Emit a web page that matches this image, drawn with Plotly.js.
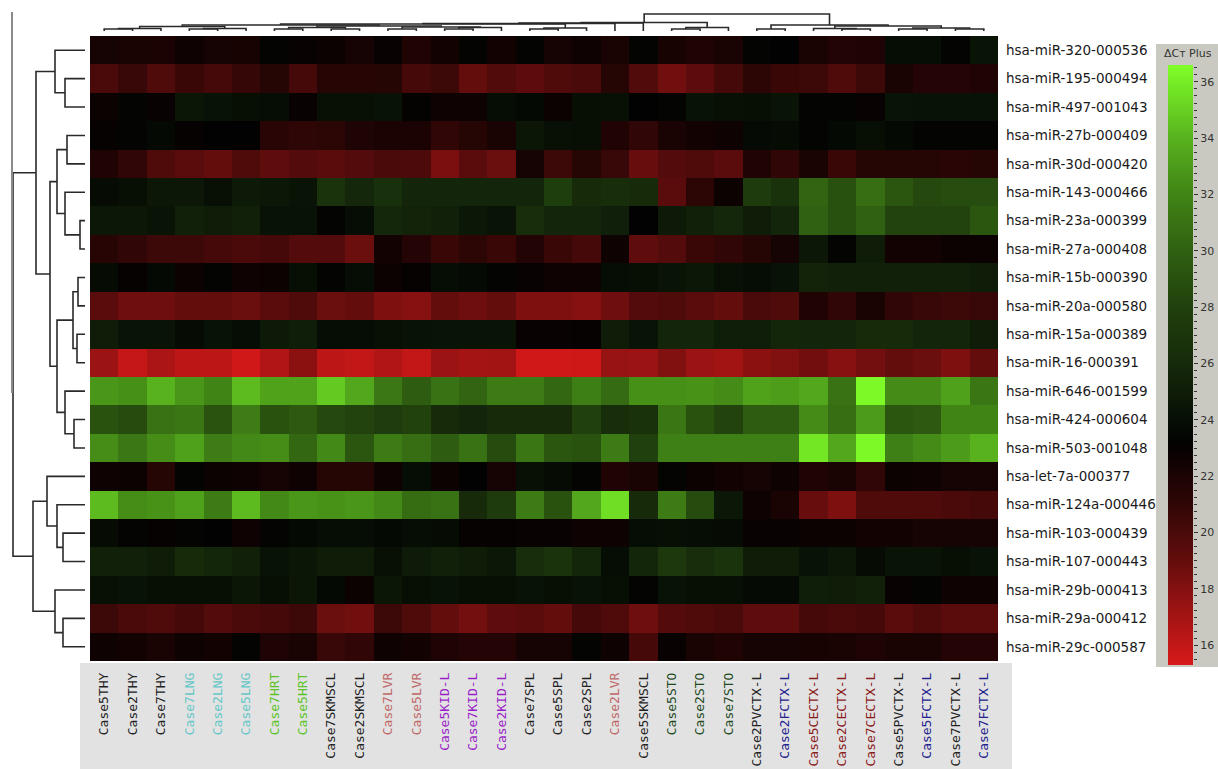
<!DOCTYPE html>
<html>
<head>
<meta charset="utf-8">
<script src="https://cdn.plot.ly/plotly-3.0.1.min.js"></script>
<style>html,body{margin:0;padding:0;background:#fff;}#chart{width:1218px;height:769px;}</style>
</head>
<body>
<div id="chart"></div>
<script>
// ---------- DATA ----------
const rowLabels = ["hsa-miR-320-000536","hsa-miR-195-000494","hsa-miR-497-001043","hsa-miR-27b-000409","hsa-miR-30d-000420","hsa-miR-143-000466","hsa-miR-23a-000399","hsa-miR-27a-000408","hsa-miR-15b-000390","hsa-miR-20a-000580","hsa-miR-15a-000389","hsa-miR-16-000391","hsa-miR-646-001599","hsa-miR-424-000604","hsa-miR-503-001048","hsa-let-7a-000377","hsa-miR-124a-000446","hsa-miR-103-000439","hsa-miR-107-000443","hsa-miR-29b-000413","hsa-miR-29a-000412","hsa-miR-29c-000587"];
const colLabels = ["Case5THY","Case2THY","Case7THY","Case7LNG","Case2LNG","Case5LNG","Case7HRT","Case5HRT","Case7SKMSCL","Case2SKMSCL","Case7LVR","Case5LVR","Case5KID-L","Case7KID-L","Case2KID-L","Case7SPL","Case5SPL","Case2SPL","Case2LVR","Case5SKMSCL","Case5STO","Case2STO","Case7STO","Case2PVCTX-L","Case2FCTX-L","Case5CECTX-L","Case2CECTX-L","Case7CECTX-L","Case5PVCTX-L","Case5FCTX-L","Case7PVCTX-L","Case7FCTX-L"];

// ΔCt values per miRNA (columns in colLabels order)
const miR320  = [22.3,22.1,22.0,22.7,22.3,22.2,23.3,22.9,22.8,22.3,22.9,21.8,22.5,23.3,22.5,23.3,22.3,22.7,22.1,23.3,22.2,21.9,22.1,23.3,23.2,22.1,21.7,21.9,23.9,23.9,23.4,24.3];
const miR195  = [20.0,20.7,19.8,20.6,20.2,20.8,21.5,20.2,21.4,21.4,21.5,20.2,20.5,19.0,19.7,19.3,19.8,20.0,21.5,19.7,18.6,19.3,20.2,21.2,20.6,20.5,19.8,20.5,22.1,21.6,21.6,21.8];
const miR497  = [22.8,23.3,22.9,24.5,24.2,24.0,23.9,22.9,24.1,24.1,24.2,23.1,22.7,22.7,23.9,23.6,22.8,24.0,24.1,23.2,23.3,24.2,24.1,24.0,24.4,23.3,23.3,22.9,24.4,24.2,24.2,24.2];
const miR27b  = [23.0,23.3,23.6,23.0,23.2,23.2,21.3,21.1,21.2,21.9,22.0,22.0,21.0,21.5,22.1,24.5,24.1,24.0,21.8,21.0,22.1,22.5,22.7,23.7,23.8,23.3,23.6,24.0,23.6,23.3,23.3,23.3];
const miR30d  = [21.8,21.0,19.8,19.4,19.0,19.8,19.2,19.6,19.4,19.6,20.0,19.9,18.3,19.4,18.8,22.3,20.5,21.5,20.7,18.9,19.6,19.8,19.4,21.8,21.0,22.1,20.6,21.5,21.5,21.5,21.3,21.5];
const miR143  = [23.8,24.0,24.6,24.6,24.1,24.8,24.6,24.3,26.8,25.8,26.5,25.6,25.6,25.6,25.6,25.6,27.8,26.1,26.4,26.1,19.4,21.2,22.8,27.5,26.7,30.2,29.0,30.8,29.4,28.5,28.8,28.8];
const miR23a  = [24.6,24.6,24.3,25.3,25.0,25.3,24.2,24.2,23.3,23.9,25.8,25.5,25.3,24.7,24.4,26.4,25.6,25.6,25.2,23.2,24.8,25.3,25.8,25.0,25.6,30.0,29.0,30.0,28.2,28.2,28.2,29.4];
const miR27a  = [21.4,21.0,20.5,20.5,20.2,20.0,20.2,19.6,19.6,18.8,22.5,21.6,20.6,21.2,20.6,21.7,20.6,20.2,22.7,19.2,19.6,20.6,21.0,21.5,22.3,24.6,23.3,25.0,22.5,22.5,22.8,22.8];
const miR15b  = [23.8,23.0,23.6,22.8,23.3,22.7,22.8,24.0,23.3,23.9,22.8,23.0,23.9,23.7,23.3,22.9,22.7,22.7,23.9,24.0,24.4,24.7,24.1,23.9,24.2,25.5,25.3,25.3,25.3,25.3,25.3,25.0];
const miR20a  = [19.4,18.7,18.7,19.0,19.0,18.8,19.4,19.8,18.8,19.0,18.2,18.0,19.0,18.7,19.0,18.2,18.2,18.0,18.7,19.6,19.8,19.4,19.0,20.0,19.8,21.8,21.0,22.1,21.0,20.7,20.5,20.7];
const miR15a  = [25.0,24.3,24.4,23.8,24.2,23.9,24.8,25.1,23.9,23.9,24.1,24.2,24.3,24.3,24.3,22.9,22.9,23.0,25.0,24.3,25.6,25.6,25.1,25.1,25.7,25.6,25.6,26.1,26.1,25.6,25.6,25.0];
const miR16   = [17.3,15.9,16.8,16.2,16.2,15.5,16.6,17.8,16.2,16.0,16.6,16.0,17.3,17.0,17.1,15.5,15.5,15.6,17.4,17.3,18.1,17.3,17.1,17.8,18.1,18.6,18.0,18.5,19.0,18.8,18.2,19.0];
const miR646  = [32.8,32.5,34.0,32.8,32.0,34.3,33.3,33.3,34.8,33.5,31.3,29.8,31.0,30.2,31.5,31.5,30.4,31.7,30.6,32.5,32.5,32.6,32.3,33.3,33.1,33.5,31.0,36.4,32.3,32.3,33.2,31.2];
const miR424  = [29.1,28.7,31.0,31.2,29.2,31.6,29.1,29.6,28.5,28.2,27.6,28.1,26.1,25.6,26.1,26.1,26.1,28.0,26.4,26.7,31.2,29.1,28.2,29.8,29.8,32.3,30.8,33.0,29.4,29.6,32.0,32.0];
const miR503  = [32.4,31.3,32.4,33.2,31.6,32.2,32.4,30.4,32.2,29.4,31.5,30.8,29.8,31.0,28.7,31.2,29.4,29.1,31.5,28.0,31.8,31.8,31.8,31.8,31.8,35.8,33.5,36.4,31.8,32.3,33.0,34.0];
const let7a   = [22.7,22.8,21.5,23.3,22.8,22.7,22.3,22.7,21.5,21.5,22.7,23.9,22.8,23.2,22.3,24.1,23.8,23.3,21.8,22.1,23.3,22.8,22.5,22.3,22.7,21.9,22.1,21.0,22.8,22.7,22.3,22.3];
const miR124a = [34.3,32.4,32.6,33.2,31.5,34.3,32.2,32.8,32.6,32.8,32.2,30.7,31.0,26.1,27.5,31.5,29.1,33.5,35.5,26.1,31.5,28.7,24.7,22.7,22.1,18.9,18.2,19.8,19.8,19.8,20.0,20.2];
const miR103  = [23.8,23.3,23.0,23.3,23.2,22.7,23.3,23.6,23.9,23.9,23.6,23.9,23.8,23.0,23.0,22.9,22.9,22.7,22.7,23.9,24.0,23.9,23.8,22.9,22.9,22.8,22.8,22.5,22.5,22.3,22.3,22.3];
const miR107  = [25.3,25.3,25.0,26.1,25.7,25.3,24.2,24.5,25.0,25.0,24.1,24.9,25.3,25.0,24.7,26.3,26.8,25.7,23.9,25.7,27.3,26.3,26.8,25.0,25.0,24.2,24.6,23.8,24.4,24.4,24.0,24.2];
const miR29b  = [24.1,24.2,24.0,24.0,24.0,24.5,24.0,24.5,23.6,22.8,24.5,24.0,24.2,24.0,24.0,24.2,24.0,24.2,24.0,23.3,24.2,24.0,24.0,23.7,23.7,25.1,25.0,25.3,22.9,23.3,22.7,22.7];
const miR29a  = [20.5,20.0,19.8,20.2,19.6,20.0,20.2,20.5,18.8,18.6,20.5,19.8,19.0,18.5,19.2,19.4,19.0,20.2,19.8,18.7,19.6,19.8,20.0,19.2,19.2,20.2,20.0,20.2,19.4,19.8,19.4,19.4];
const miR29c  = [22.7,22.5,22.1,22.7,22.5,23.3,21.9,22.1,20.7,21.0,22.7,22.5,21.9,21.6,21.6,22.3,22.3,23.3,22.7,20.2,22.9,22.1,21.8,22.3,22.3,22.2,22.1,21.9,22.1,22.1,21.6,21.6];

// colour-bar range and threshold marker
const zRange = [15.3, 36.6];
const colorbarTicks = [16,18,20,22,24,26,28,30,32,34,36];
const markerValue = 23.1;

// hierarchical clustering merges: [childA, childB, distance]
const rowMerges = [[1,2,20],[0,22,30],[3,4,18],[6,7,5],[5,25,20],[24,26,28],[8,9,7],[10,11,8],[28,29,12],[13,14,11],[12,31,20],[30,32,28],[27,33,35],[23,34,49],[17,18,22],[16,36,28],[15,37,38],[20,21,22],[19,39,30],[38,40,52],[35,41,72]];
const colMerges = [[0,1,2],[32,2,2.5],[3,4,2],[34,5,2.5],[33,35,4.5],[6,7,2],[8,9,2],[37,38,3.5],[10,11,2],[12,13,2],[41,14,3.5],[40,42,4],[39,43,5],[36,44,6],[15,16,2],[46,17,3],[45,47,7],[48,18,7.5],[49,19,8],[20,21,2],[51,22,3.5],[50,52,8.5],[23,24,2],[26,27,2],[25,55,2.5],[28,29,2],[30,31,2],[57,58,3],[56,59,5],[54,60,6],[53,61,17]];

// ---------- STYLE ----------
const W = 1218, H = 769;
const heat = {x0: 90, x1: 998, y0: 36, y1: 661};
const px = v => v / W, py = v => (H - v) / H;
const tissueColors = {THY:'#222222', LNG:'#66c8c8', HRT:'#5cc228', SKMSCL:'#222222', LVR:'#c06868', KID:'#9a1ec8', SPL:'#222222', STO:'#1e4a1e', PVCTX:'#222222', CECTX:'#8a1a1a', FCTX:'#22228e'};
function labelColor(l){
  const m = l.replace(/^Case\d/, '').replace(/-L$/, '');
  return tissueColors[m] || '#222222';
}
const scaleStops = [[15.3,'rgb(215,25,25)'],[17,'rgb(165,20,20)'],[19,'rgb(100,13,13)'],[21,'rgb(48,6,6)'],[22.5,'rgb(18,2,2)'],[23.2,'rgb(3,2,2)'],[24,'rgb(7,15,5)'],[26,'rgb(22,42,11)'],[28,'rgb(32,64,13)'],[30,'rgb(48,96,17)'],[32,'rgb(65,132,22)'],[34,'rgb(88,178,30)'],[36.6,'rgb(128,255,40)']];
const colorscale = scaleStops.map(s => [(s[0]-zRange[0])/(zRange[1]-zRange[0]), s[1]]);

function dendro(merges, n){
  const pos = [], hgt = [];
  for (let i=0;i<n;i++){pos.push(i); hgt.push(0);}
  const P = [], Hh = [];
  merges.forEach(([a,b,h]) => {
    P.push(pos[a],pos[a],pos[b],pos[b],null);
    Hh.push(hgt[a],h,h,hgt[b],null);
    pos.push((pos[a]+pos[b])/2); hgt.push(h);
  });
  return {P, Hh};
}

const z = [miR320,miR195,miR497,miR27b,miR30d,miR143,miR23a,miR27a,miR15b,miR20a,miR15a,miR16,miR646,miR424,miR503,let7a,miR124a,miR103,miR107,miR29b,miR29a,miR29c];
const xs = colLabels.map((_,i)=>i), ys = rowLabels.map((_,i)=>i);
const rd = dendro(rowMerges, rowLabels.length);
const cd = dendro(colMerges, colLabels.length);

const traces = [
  {type:'heatmap', z:z, x:xs, y:ys, zmin:zRange[0], zmax:zRange[1], colorscale:colorscale, xgap:0, ygap:0, hoverinfo:'z',
   colorbar:{x:px(1168), xanchor:'left', xpad:0, ypad:0, y:py(365), yanchor:'middle', len:600, lenmode:'pixels', thickness:25, thicknessmode:'pixels', outlinewidth:0, showticklabels:false, ticks:''}},
  {type:'scatter', mode:'lines', x:rd.Hh, y:rd.P, xaxis:'x2', yaxis:'y', line:{color:'#2a2a2a', width:1.6}, hoverinfo:'skip', showlegend:false},
  {type:'scatter', mode:'lines', x:cd.P, y:cd.Hh, xaxis:'x', yaxis:'y3', line:{color:'#2a2a2a', width:1.6}, hoverinfo:'skip', showlegend:false},
  {type:'scatter', mode:'markers', x:[], y:[], xaxis:'x4', yaxis:'y4', showlegend:false, hoverinfo:'skip'}
];

const ticktext = colLabels.map(l => `<span style="color:${labelColor(l)}">${l}</span>`);

const layout = {
  width: W, height: H, margin:{l:0,r:0,t:0,b:0}, paper_bgcolor:'#ffffff', plot_bgcolor:'rgba(0,0,0,0)', showlegend:false,
  font:{family:'DejaVu Sans, Verdana, sans-serif', color:'#1a1a1a'},
  xaxis:{domain:[px(heat.x0), px(heat.x1)], range:[-0.5, colLabels.length-0.5], anchor:'y', side:'bottom', tickmode:'array', tickvals:xs, ticktext:ticktext, tickangle:-90, ticks:'', showgrid:false, zeroline:false, showline:false, ticklabelstandoff:8, tickfont:{family:'DejaVu Sans Mono, monospace', size:13, color:'#222'}},
  yaxis:{domain:[py(heat.y1), py(heat.y0)], range:[rowLabels.length-0.5, -0.5], anchor:'x', side:'right', tickmode:'array', tickvals:ys, ticktext:rowLabels, ticks:'', showgrid:false, zeroline:false, showline:false, ticklabelstandoff:7, tickfont:{family:'DejaVu Sans, Verdana, sans-serif', size:13.5, color:'#1a1a1a'}},
  xaxis2:{domain:[0, px(90)], range:[85,-5], anchor:'y', visible:false, fixedrange:true},
  yaxis3:{domain:[py(heat.y0), 1], range:[-5,31], anchor:'x', visible:false},
  xaxis4:{domain:[px(1168), px(1193)], range:[0,1], anchor:'y4', visible:false},
  yaxis4:{domain:[py(665), py(65)], range:zRange, anchor:'x4', side:'right', tickmode:'array', tickvals:colorbarTicks, ticks:'outside', ticklen:4, tickcolor:'#333', showgrid:false, zeroline:false, showline:false, ticklabelstandoff:0, tickfont:{size:11, color:'#333'},
          minor:{dtick:0.25, tick0:16, ticks:'outside', ticklen:2.5, tickcolor:'#333', showgrid:false}},
  shapes:[
    {type:'rect', xref:'paper', yref:'paper', x0:px(1156), x1:1, y0:py(667), y1:py(44), fillcolor:'#c9c9c1', line:{width:0}, layer:'below'},
    {type:'rect', xref:'paper', yref:'paper', x0:px(80), x1:px(1012), y0:0, y1:py(663), fillcolor:'#e2e2e2', line:{width:0}, layer:'below'},
    {type:'line', xref:'paper', yref:'paper', x0:px(12), x1:px(12), y0:py(12), y1:py(393), line:{color:'#8a8a8a', width:2}},
    {type:'path', xref:'x4', yref:'y4', path:`M -0.02 ${markerValue+0.15} L 0.8 ${markerValue+0.15} L 1.0 ${markerValue} L 0.8 ${markerValue-0.15} L -0.02 ${markerValue-0.15} Z`, fillcolor:'#eeeeea', line:{color:'#9a9a94', width:1}}
  ],
  annotations:[
    {xref:'paper', yref:'paper', x:px(1188), y:py(53), text:'ΔCᴛ Plus', showarrow:false, font:{size:11, color:'#333'}, xanchor:'center', yanchor:'middle'}
  ]
};

Plotly.newPlot('chart', traces, layout, {staticPlot:true, displayModeBar:false});
</script>
</body>
</html>
